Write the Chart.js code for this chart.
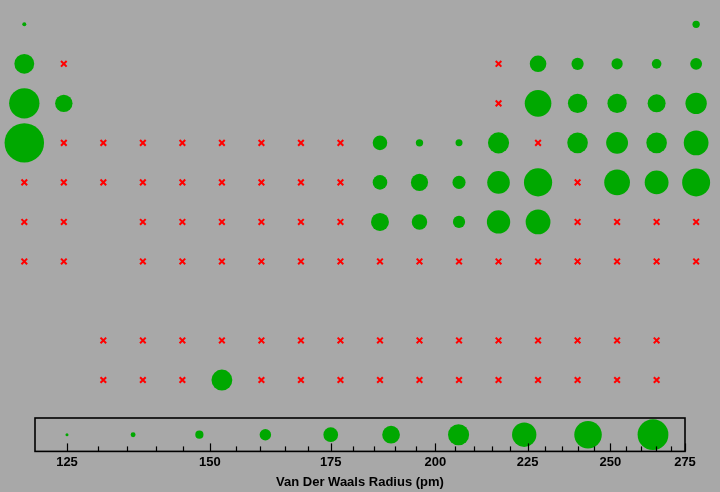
<!DOCTYPE html>
<html>
<head>
<meta charset="utf-8">
<script src="https://cdn.jsdelivr.net/npm/chart.js@4.4.1/dist/chart.umd.min.js"></script>
<style>
  html, body { margin: 0; padding: 0; background: #a8a8a8; }
  #wrap { position: relative; width: 720px; height: 492px; }
  #tableBox { position: absolute; left: 0; top: 0; width: 720px; height: 410px; }
  #legendBox { position: absolute; left: 0; top: 410px; width: 720px; height: 82px; }
</style>
</head>
<body>
<div id="wrap">
  <div id="tableBox"><canvas id="tableChart"></canvas></div>
  <div id="legendBox"><canvas id="legendChart"></canvas></div>
</div>
<script>
// periodic table: group (column), period row (9 = lanthanides, 10 = actinides), radius in pm (null = no data)
const symbols = [
  "H", "He",
  "Li", "Be", "B", "C", "N", "O", "F", "Ne",
  "Na", "Mg", "Al", "Si", "P", "S", "Cl", "Ar",
  "K", "Ca", "Sc", "Ti", "V", "Cr", "Mn", "Fe", "Co", "Ni", "Cu", "Zn", "Ga", "Ge", "As", "Se", "Br", "Kr",
  "Rb", "Sr", "Y", "Zr", "Nb", "Mo", "Tc", "Ru", "Rh", "Pd", "Ag", "Cd", "In", "Sn", "Sb", "Te", "I", "Xe",
  "Cs", "Ba", "Hf", "Ta", "W", "Re", "Os", "Ir", "Pt", "Au", "Hg", "Tl", "Pb", "Bi", "Po", "At", "Rn",
  "Fr", "Ra", "Rf", "Db", "Sg", "Bh", "Hs", "Mt", "Ds", "Rg", "Cn", "Nh", "Fl", "Mc", "Lv", "Ts", "Og",
  "La", "Ce", "Pr", "Nd", "Pm", "Sm", "Eu", "Gd", "Tb", "Dy", "Ho", "Er", "Tm", "Yb", "Lu",
  "Ac", "Th", "Pa", "U", "Np", "Pu", "Am", "Cm", "Bk", "Cf", "Es", "Fm", "Md", "No", "Lr",
];
const groups = [
  1, 18,
  1, 2, 13, 14, 15, 16, 17, 18,
  1, 2, 13, 14, 15, 16, 17, 18,
  1, 2, 3, 4, 5, 6, 7, 8, 9, 10, 11, 12, 13, 14, 15, 16, 17, 18,
  1, 2, 3, 4, 5, 6, 7, 8, 9, 10, 11, 12, 13, 14, 15, 16, 17, 18,
  1, 2, 4, 5, 6, 7, 8, 9, 10, 11, 12, 13, 14, 15, 16, 17, 18,
  1, 2, 4, 5, 6, 7, 8, 9, 10, 11, 12, 13, 14, 15, 16, 17, 18,
  3, 4, 5, 6, 7, 8, 9, 10, 11, 12, 13, 14, 15, 16, 17,
  3, 4, 5, 6, 7, 8, 9, 10, 11, 12, 13, 14, 15, 16, 17,
];
const periods = [
  1, 1,
  2, 2, 2, 2, 2, 2, 2, 2,
  3, 3, 3, 3, 3, 3, 3, 3,
  4, 4, 4, 4, 4, 4, 4, 4, 4, 4, 4, 4, 4, 4, 4, 4, 4, 4,
  5, 5, 5, 5, 5, 5, 5, 5, 5, 5, 5, 5, 5, 5, 5, 5, 5, 5,
  6, 6, 6, 6, 6, 6, 6, 6, 6, 6, 6, 6, 6, 6, 6, 6, 6,
  7, 7, 7, 7, 7, 7, 7, 7, 7, 7, 7, 7, 7, 7, 7, 7, 7,
  9, 9, 9, 9, 9, 9, 9, 9, 9, 9, 9, 9, 9, 9, 9,
  10, 10, 10, 10, 10, 10, 10, 10, 10, 10, 10, 10, 10, 10, 10,
];
const vdwRadii = [
  120, 140,
  182, null, null, 170, 155, 152, 147, 154,
  227, 173, null, 210, 180, 180, 175, 188,
  275, null, null, null, null, null, null, null, null, 163, 140, 139, 187, null, 185, 190, 185, 202,
  null, null, null, null, null, null, null, null, null, 163, 172, 158, 193, 217, null, 206, 198, 216,
  null, null, null, null, null, null, null, null, 175, 166, 155, 196, 202, null, null, null, null,
  null, null, null, null, null, null, null, null, null, null, null, null, null, null, null, null, null,
  null, null, null, null, null, null, null, null, null, null, null, null, null, null, null,
  null, null, null, 186, null, null, null, null, null, null, null, null, null, null, null,
];

// size key below the table
const legendValues = [125, 136, 148, 161, 175, 189, 206, 224, 243, 264];
const tickValues = [125, 130, 135, 140, 145, 150, 155, 160, 165, 170, 175, 180, 185, 190, 195,
  200, 205, 210, 215, 220, 225, 230, 235, 240, 245, 250, 255, 260, 265, 270, 275];
const labelledTicks = [125, 150, 175, 200, 225, 250, 275];

const GREEN = "rgb(0, 168, 0)";
Chart.defaults.font.family = "'Liberation Sans', Arial, sans-serif";

// radius grows with the log of the value
function bubbleRadius(value, scale, minRadius) {
  return Math.max(minRadius, 23.8 * Math.log(value / 120) * scale);
}

const measured = [];
const missing = [];
symbols.forEach((sym, i) => {
  const point = { x: groups[i], y: periods[i], v: vdwRadii[i], sym: sym };
  if (vdwRadii[i] === null) {
    missing.push(point);
  } else {
    measured.push(point);
  }
});

new Chart(document.getElementById("tableChart"), {
  type: "scatter",
  data: {
    datasets: [
      {
        label: "Van Der Waals Radius",
        data: measured,
        pointStyle: "circle",
        pointRadius: (ctx) => bubbleRadius(ctx.raw.v, 1, 2),
        backgroundColor: GREEN,
        borderWidth: 0,
        clip: false,
      },
      {
        label: "No data",
        data: missing,
        pointStyle: "crossRot",
        pointRadius: 4,
        borderColor: "#ff0000",
        borderWidth: 2,
        clip: false,
      },
    ],
  },
  options: {
    responsive: true,
    maintainAspectRatio: false,
    animation: false,
    events: [],
    layout: { padding: 0, autoPadding: false },
    plugins: { legend: { display: false }, tooltip: { enabled: false } },
    scales: {
      x: { type: "linear", display: false, min: 0.385, max: 18.604 },
      y: { type: "linear", display: false, reverse: true, min: 0.385, max: 10.759 },
    },
  },
});

const legendFrame = {
  id: "legendFrame",
  afterDatasetsDraw(chart) {
    const { ctx, chartArea, scales } = chart;
    ctx.save();
    ctx.strokeStyle = "#000";
    ctx.lineWidth = 1.2;
    scales.x.ticks.forEach((t) => {
      const x = Math.round(scales.x.getPixelForValue(t.value)) + 0.5;
      const len = labelledTicks.includes(t.value) ? 8 : 5;
      ctx.beginPath();
      ctx.moveTo(x, chartArea.bottom);
      ctx.lineTo(x, chartArea.bottom - len);
      ctx.stroke();
    });
    ctx.lineWidth = 1.6;
    ctx.strokeRect(chartArea.left, chartArea.top, chartArea.width, chartArea.height);
    ctx.restore();
  },
};

new Chart(document.getElementById("legendChart"), {
  type: "scatter",
  data: {
    datasets: [{
      label: "size key",
      data: legendValues.map((v) => ({ x: v, y: 0.5 })),
      pointStyle: "circle",
      pointRadius: (ctx) => bubbleRadius(ctx.raw.x, 0.82, 1.5),
      backgroundColor: GREEN,
      borderWidth: 0,
    }],
  },
  plugins: [legendFrame],
  options: {
    responsive: true,
    maintainAspectRatio: false,
    animation: false,
    events: [],
    layout: { padding: { top: 8, left: 35, right: 35, bottom: 0 }, autoPadding: false },
    plugins: {
      legend: { display: false },
      tooltip: { enabled: false },
      title: {
        display: true,
        position: "bottom",
        text: "Van Der Waals Radius (pm)",
        color: "#000",
        font: { size: 13, weight: "bold", lineHeight: 1.0 },
        padding: { top: 3, bottom: 3 },
      },
    },
    scales: {
      x: {
        type: "logarithmic",
        min: 120,
        max: 275,
        afterBuildTicks: (axis) => {
          axis.ticks = tickValues.map((v) => ({ value: v }));
        },
        grid: { display: false, drawTicks: false },
        border: { display: false },
        ticks: {
          autoSkip: false,
          maxRotation: 0,
          padding: 3,
          color: "#000",
          font: { size: 13, weight: "bold" },
          callback: (value) => (labelledTicks.includes(value) ? String(value) : ""),
        },
      },
      y: { type: "linear", display: false, min: 0, max: 1 },
    },
  },
});
</script>
</body>
</html>
